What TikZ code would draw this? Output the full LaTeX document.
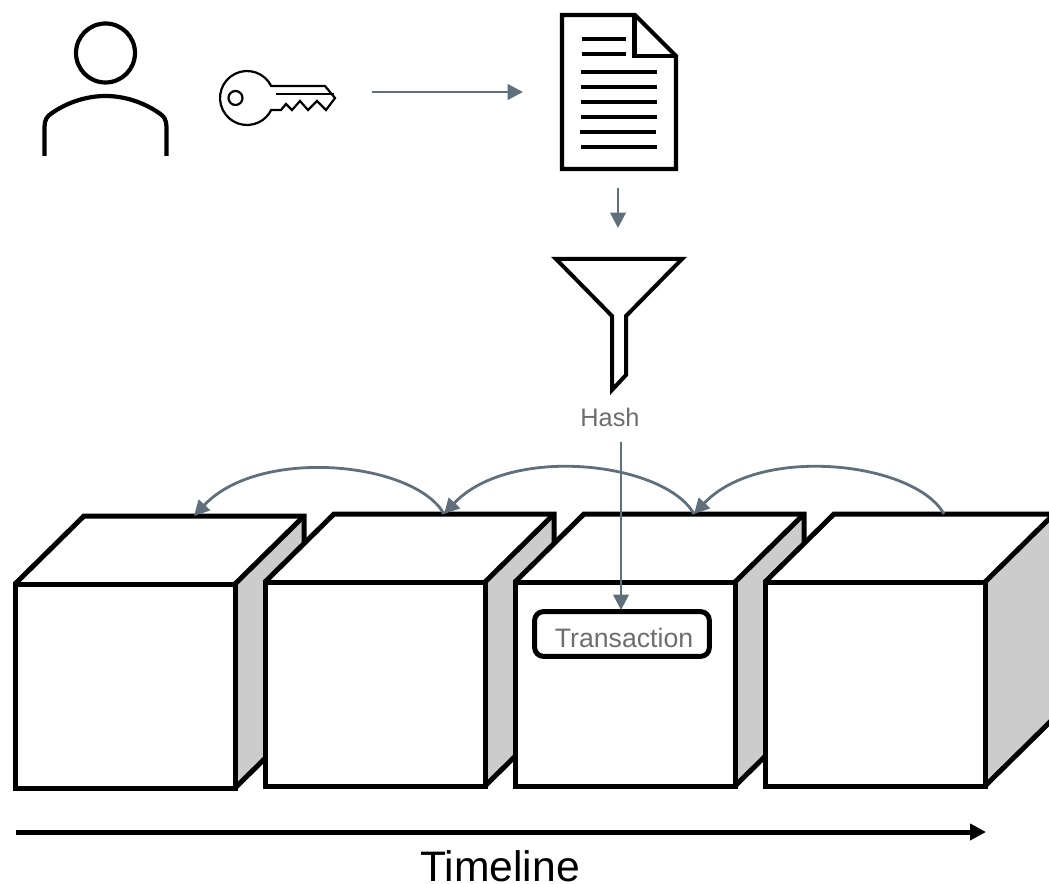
\documentclass[tikz,border=0pt]{standalone}
\usepackage{fontspec}
\setmainfont{Liberation Sans}
\usetikzlibrary{arrows.meta}
\definecolor{conn}{HTML}{5F6F7B}
\definecolor{txt}{HTML}{6D6E71}
\definecolor{side}{HTML}{CCCCCC}
\tikzset{
  x=0.75pt,y=-0.75pt,
  px/.style={line width=#1*0.75pt},
  icon/.style={draw=black,px=4.2,miter limit=10,line join=miter},
  thin icon/.style={draw=black,px=2.2,line join=miter},
  docline/.style={draw=black,px=3.6},
  cubeedge/.style={draw=black,px=5,line join=miter,miter limit=10},
  conn/.style={draw=conn,px=2.8,-{Triangle[length=11.5pt,width=11.5pt]}},
  lbl/.style={text=txt,inner sep=0pt,font=\fontsize{19}{21}\selectfont},
}
\newcommand{\blockcube}[3]{% x of front left, y of front top, name
  \fill[side] (#1+220,#2) -- (#1+220,#2+204) -- (#1+289,#2+136) -- (#1+289,#2-68) -- cycle;
  \fill[white] (#1,#2) -- (#1+69,#2-68) -- (#1+289,#2-68) -- (#1+220,#2) -- cycle;
  \draw[cubeedge] (#1,#2) -- (#1+69,#2-68) -- (#1+289,#2-68) -- (#1+289,#2+136);
  \draw[cubeedge] (#1+289,#2-68) -- (#1+220,#2);
  \draw[cubeedge] (#1+289,#2+136) -- (#1+220,#2+204);
  \path[cubeedge,fill=white] (#1,#2) rectangle (#1+220,#2+204);
  \coordinate (#3) at (#1+179,#2-68);
}
\begin{document}
\begin{tikzpicture}
\useasboundingbox (0,0) rectangle (1049,884);
\clip (0,0) rectangle (1049,884);
\fill[white] (0,0) rectangle (1049,884);

% person
\draw[icon] (105.5,53) circle (29.5);
\draw[icon] (44.5,156) -- (44.5,127) .. controls (44.5,120) and (47,116) .. (52,113)
  .. controls (68,102) and (87,96) .. (105.5,96)
  .. controls (124,96) and (143,102) .. (159,113)
  .. controls (164,116) and (166.5,120) .. (166.5,127) -- (166.5,156);

% key
\draw[thin icon] (271.2,86) arc[start angle=-26.4,end angle=-333.6,radius=27]
  -- (281,110) -- (286,104) -- (292,110) -- (300,101) -- (308,110) -- (317,101) -- (326,110)
  -- (335,98) -- (325,86) -- cycle;
\draw[thin icon] (235.5,98) circle (7);
\draw[thin icon] (276,94) -- (334,94);
\coordinate (keyR) at (372,92);

% document
\draw[icon,fill=white] (562,15) -- (635,15) -- (676,56) -- (676,169) -- (562,169) -- cycle;
\draw[icon] (634.5,15) -- (634.5,56) -- (676,56);
\foreach \a/\b/\y in {582/626/39,582/626/54,581/657/72,581/657/87,581/657/102,581/657/117,580/656/132,581/657/147}
  \draw[docline] (\a,\y) -- (\b,\y);
\coordinate (docL) at (523,92);
\coordinate (docB) at (618,188);
\coordinate (funT) at (618,228);

% funnel
\draw[icon,px=4] (556,259) -- (682,259) -- (626,316) -- (626,375) -- (612,390) -- (612,316) -- cycle;

% cubes
\blockcube{15}{584}{c1}
\blockcube{265}{582}{c2}
\blockcube{515}{582}{c3}
\blockcube{765}{582}{c4}

% transaction box
\node[draw=black,px=5,rounded corners=6.5pt,fill=white,minimum width=131pt,minimum height=33.5pt,inner sep=0pt] (tx) at (622,634) {};
\node[lbl,font=\fontsize{20}{22}\selectfont] (txl) at (624,638) {Transaction};

% hash label
\node[lbl] (hash) at (610,417) {Hash};
\coordinate (hashB) at (621,442);
\coordinate (txT) at (621,610);

% connectors
\draw[conn] (keyR) -- (docL);
\draw[conn] (docB) -- (funT);
\draw[conn] (hashB) -- (txT);
\draw[conn] (c4) .. controls +(-29,-52) and +(66,-70) .. (c3);
\draw[conn] (c3) .. controls +(-29,-52) and +(66,-70) .. (c2);
\draw[conn] (c2) .. controls +(-29,-52) and +(66,-70) .. (c1);

% timeline
\coordinate (tlA) at (16,832);
\coordinate (tlB) at (986,832);
\draw[draw=black,px=5,-{Triangle[length=12pt,width=12pt]}] (tlA) -- (tlB);
\node[inner sep=0pt,font=\fontsize{32}{36}\selectfont,text=black] (tl) at (500,866) {Timeline};
\end{tikzpicture}
\end{document}
